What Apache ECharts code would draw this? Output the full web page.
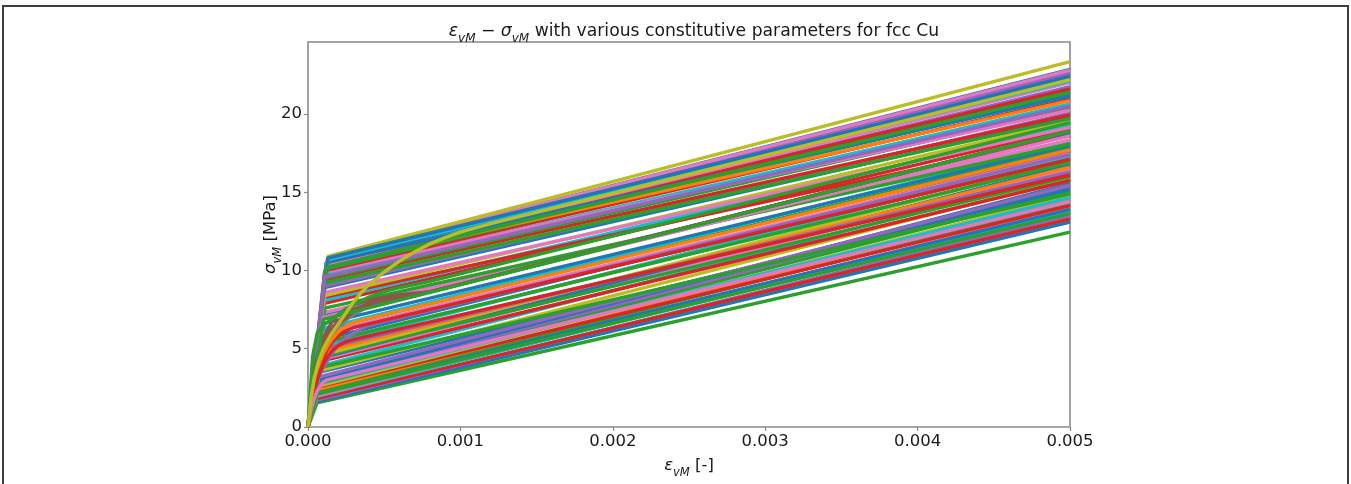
<!DOCTYPE html>
<html>
<head>
<meta charset="utf-8">
<script src="https://cdn.jsdelivr.net/npm/echarts@6/dist/echarts.min.js"></script>
<style>
  html, body { margin: 0; padding: 0; background: #ffffff; }
  #chart { width: 1351px; height: 484px; }
</style>
</head>
<body>
<div id="chart"></div>
<script>
// Von Mises strain-stress curves for fcc Cu under different constitutive parameter sets.

const xTickValues = [0, 0.001, 0.002, 0.003, 0.004, 0.005];
const xTickLabels = ['0.000', '0.001', '0.002', '0.003', '0.004', '0.005'];
const yTickValues = [0, 5, 10, 15, 20];
const yTickLabels = ['0', '5', '10', '15', '20'];

// Bilinear curves: elastic up to the knee, then linear hardening to the last strain.
const kneeStrain = [
  0.00006, 0.00005, 0.00005, 0.00005, 0.00005, 0.00006, 0.00006, 0.00006, 0.00006, 0.00006,
  0.00006, 0.00007, 0.00007, 0.00007, 0.00007, 0.00007, 0.00008, 0.00008, 0.00008, 0.00008,
  0.00008, 0.00008, 0.00009, 0.00009, 0.00009, 0.0001, 0.0001, 0.0001, 0.0001, 0.0001,
  0.0001, 0.0001, 0.0001, 0.00011, 0.00011, 0.00011, 0.00011, 0.00011, 0.00011, 0.00011,
  0.00011, 0.00011, 0.00011, 0.00011, 0.00012, 0.00012, 0.00012, 0.00012, 0.00012, 0.00012,
  0.00012, 0.00012, 0.00013, 0.00013, 0.00013, 0.00013, 0.00013, 0.00013, 0.00013, 0.00013,
  0.00009, 0.0001, 0.0001, 0.00011, 0.00011, 0.00011, 0.00007, 0.00008, 0.00006, 0.00012,
  0.00011, 0.0001
];
const kneeStress = [
  1.55, 1.6, 1.7, 1.8, 1.95, 2.0, 2.25, 2.3, 2.4, 2.55,
  2.6, 2.75, 2.8, 2.9, 3.0, 3.5, 3.6, 3.9, 4.2, 4.3,
  4.4, 4.5, 4.6, 4.8, 5.2, 5.6, 5.9, 6.2, 6.3, 6.6,
  6.88, 7.1, 7.3, 7.9, 8.1, 8.3, 8.4, 8.9, 9.0, 9.4,
  9.5, 9.8, 9.9, 10.0, 10.1, 10.2, 10.3, 10.3, 10.4, 10.4,
  10.5, 10.5, 10.6, 10.6, 10.7, 10.7, 10.8, 10.8, 10.9, 10.8,
  5.0, 5.4, 6.0, 7.6, 8.6, 9.2, 3.2, 3.8, 2.1, 10.2,
  9.6, 7.0
];
const endStrain = 0.005;
const endStress = [
  12.45, 13.1, 13.5, 13.3, 13.8, 14.0, 13.9, 14.3, 14.55, 14.15,
  14.8, 14.65, 15.05, 15.3, 15.55, 15.2, 15.85, 16.2, 15.75, 16.45,
  16.75, 16.0, 17.0, 16.6, 17.3, 17.6, 17.1, 17.85, 18.15, 18.0,
  18.9, 18.75, 18.35, 19.05, 19.3, 18.6, 19.55, 19.8, 20.05, 19.95,
  20.35, 20.65, 20.25, 20.95, 21.25, 21.5, 20.85, 21.75, 21.6, 22.0,
  22.2, 21.15, 22.4, 22.5, 22.65, 22.1, 22.85, 22.8, 23.35, 22.3,
  16.3, 16.9, 17.45, 18.1, 19.15, 19.7, 15.45, 14.9, 13.65, 21.4,
  20.5, 18.6
];

// Curves with gradual (saturating) hardening after yield.
const arcBrownA = [[0, 0], [0.00002, 2.4], [0.00004, 3.7], [0.00007, 4.9], [0.0001, 5.7], [0.00015, 6.6], [0.0002, 7.2], [0.00025, 7.55], [0.0003, 7.8], [0.0004, 8.1], [0.0005, 8.3], [0.0006, 8.45], [0.0007, 8.55], [0.0008, 8.63], [0.005, 18.9]];
const arcBrownB = [[0, 0], [0.00002, 2.2], [0.00004, 3.4], [0.00007, 4.5], [0.0001, 5.3], [0.00015, 6.2], [0.0002, 6.8], [0.00025, 7.2], [0.0003, 7.5], [0.0004, 7.9], [0.0005, 8.15], [0.0006, 8.35], [0.0007, 8.5], [0.0008, 8.63], [0.005, 18.9]];
const arcGrey   = [[0, 0], [0.00002, 2.0], [0.00004, 3.1], [0.00007, 4.1], [0.0001, 4.9], [0.00015, 5.8], [0.0002, 6.4], [0.00025, 6.85], [0.0003, 7.2], [0.0004, 7.7], [0.0005, 8.0], [0.0006, 8.25], [0.0007, 8.45], [0.0008, 8.63], [0.005, 18.9]];
const arcBrownC = [[0, 0], [0.00002, 2.1], [0.00004, 3.2], [0.00007, 4.3], [0.0001, 5.1], [0.00015, 6.0], [0.0002, 6.6], [0.0003, 7.35], [0.0004, 7.8], [0.0005, 8.1], [0.0006, 8.3], [0.0008, 8.63], [0.005, 18.9]];
const arcPurple = [[0, 0], [0.00002, 1.5], [0.00004, 2.4], [0.00007, 3.2], [0.0001, 3.8], [0.00015, 4.6], [0.0002, 5.3], [0.00025, 5.7], [0.0003, 6.0], [0.00035, 6.3], [0.0004, 6.5], [0.005, 17.4]];
const arcRedA   = [[0, 0], [0.00002, 1.5], [0.00003, 2.0], [0.00005, 2.7], [0.00007, 3.3], [0.0001, 4.0], [0.00013, 4.5], [0.00016, 4.9], [0.0002, 5.2], [0.00025, 5.45], [0.0003, 5.6], [0.005, 16.1]];
const arcRedB   = [[0, 0], [0.00002, 1.6], [0.00003, 2.2], [0.00005, 3.0], [0.00007, 3.6], [0.0001, 4.4], [0.00013, 5.0], [0.00016, 5.45], [0.0002, 5.85], [0.00025, 6.15], [0.0003, 6.36], [0.005, 17.1]];
const arcOrange = [[0, 0], [0.00002, 1.8], [0.00004, 3.0], [0.00006, 3.7], [0.00008, 4.2], [0.0001, 4.7], [0.00015, 5.5], [0.0002, 6.1], [0.00025, 6.45], [0.0003, 6.7], [0.005, 17.7]];
const arcPink   = [[0, 0], [0.00002, 1.1], [0.00004, 1.8], [0.00006, 2.3], [0.00008, 2.6], [0.0001, 2.85], [0.00012, 3.0], [0.005, 14.4]];
const arcGreen  = [[0, 0], [0.00003, 4.5], [0.00006, 6.0], [0.0001, 6.5], [0.0002, 7.2], [0.0003, 7.8], [0.0004, 8.3], [0.0005, 8.65], [0.0006, 8.9], [0.0008, 9.3], [0.005, 19.45]];
const arcOlive  = [[0, 0], [0.00002, 1.9], [0.00004, 3.1], [0.00007, 4.2], [0.0001, 5.0], [0.00015, 5.9], [0.0002, 6.6], [0.00025, 7.3], [0.0003, 8.0], [0.00035, 8.6], [0.0004, 9.1], [0.00045, 9.5], [0.0005, 9.9], [0.0006, 10.6], [0.0007, 11.2], [0.0008, 11.7], [0.0009, 12.1], [0.001, 12.45], [0.0012, 13.0], [0.005, 22.2]];

// ---- styling ----
const palette = ['#1f77b4', '#ff7f0e', '#2ca02c', '#d62728', '#9467bd',
                 '#8c564b', '#e377c2', '#7f7f7f', '#bcbd22', '#17becf'];
const lineTone = [
  2, 0, 4, 3, 9, 6, 0, 2, 1, 3,
  8, 9, 2, 4, 0, 0, 8, 9, 3, 6,
  0, 2, 8, 1, 9, 0, 3, 2, 9, 0,
  2, 0, 6, 3, 9, 3, 8, 0, 4, 3,
  2, 9, 6, 3, 2, 0, 1, 4, 3, 6,
  9, 0, 3, 0, 4, 9, 0, 6, 8, 0,
  4, 2, 6, 2, 6, 2, 4, 2, 2, 2,
  4, 6
];
// Draw order: bilinear curves, brown arcs, the green curve their tails share, then the other arcs.
const liftedLine = 30;
const brownArcs = [arcBrownA, arcBrownB, arcGrey, arcBrownC];
const brownTone = [5, 5, 7, 5];
const overArcs = [arcPurple, arcRedA, arcRedB, arcOrange, arcPink, arcGreen, arcOlive];
const overTone = [4, 3, 3, 1, 6, 2, 8];

const LINE_W = 3.4;
const series = [];
function addLine(data, tone) {
  series.push({
    type: 'line',
    data: data,
    showSymbol: false,
    silent: true,
    lineStyle: { width: LINE_W, color: palette[tone] },
    itemStyle: { color: palette[tone] }
  });
}
const bilinear = i => [[0, 0], [kneeStrain[i], kneeStress[i]], [endStrain, endStress[i]]];
kneeStress.forEach((sk, i) => { if (i !== liftedLine) addLine(bilinear(i), lineTone[i]); });
brownArcs.forEach((pts, i) => addLine(pts, brownTone[i]));
addLine(bilinear(liftedLine), lineTone[liftedLine]);
overArcs.forEach((pts, i) => addLine(pts, overTone[i]));

const FONT = 'DejaVu Sans';
const TXT = '#1a1a1a';
const AXIS_GREY = '#8a8a8a';

function mathRich(size, sub) {
  return {
    n: { fontFamily: FONT, fontWeight: 'normal', fontSize: size, color: TXT, lineHeight: 22, verticalAlign: 'middle' },
    i: { fontFamily: FONT, fontWeight: 'normal', fontStyle: 'italic', fontSize: size, color: TXT, lineHeight: 22, verticalAlign: 'middle' },
    s: { fontFamily: FONT, fontWeight: 'normal', fontStyle: 'italic', fontSize: sub, color: TXT, lineHeight: 22, verticalAlign: 'bottom', padding: [0, 0, -2, 0] }
  };
}

const chart = echarts.init(document.getElementById('chart'), null, { renderer: 'canvas' });
chart.setOption({
  animation: false,
  backgroundColor: '#ffffff',
  textStyle: { fontFamily: FONT },
  title: {
    text: '{i|ε}{s|vM}{n| − }{i|σ}{s|vM}{n| with various constitutive parameters for fcc Cu}',
    left: 689,
    textAlign: 'center',
    top: 16,
    textStyle: { fontWeight: 'normal', rich: mathRich(17.2, 12) }
  },
  grid: {
    left: 308, right: 281, top: 42, bottom: 48,
    show: true, borderColor: AXIS_GREY, borderWidth: 1.6, backgroundColor: 'transparent'
  },
  xAxis: {
    type: 'value',
    min: 0, max: 0.005, interval: 0.001,
    axisLine: { show: false },
    axisTick: { show: true, inside: false, length: 4, lineStyle: { color: AXIS_GREY, width: 1.2 } },
    splitLine: { show: false },
    axisLabel: {
      fontFamily: FONT, fontSize: 16.5, color: TXT, margin: 6,
      showMinLabel: true, showMaxLabel: true,
      formatter: v => {
        const k = xTickValues.findIndex(t => Math.abs(t - v) < 1e-9);
        return k >= 0 ? xTickLabels[k] : '';
      }
    },
    name: '{i|ε}{s|vM}{n| [-]}',
    nameLocation: 'middle',
    nameGap: 28,
    nameTextStyle: { rich: mathRich(16.5, 11.5) }
  },
  yAxis: {
    type: 'value',
    min: 0, max: 24.6, interval: 5,
    axisLine: { show: false },
    axisTick: { show: true, inside: false, length: 4, lineStyle: { color: AXIS_GREY, width: 1.2 } },
    splitLine: { show: false },
    axisLabel: {
      fontFamily: FONT, fontSize: 16.5, color: TXT, margin: 6,
      showMaxLabel: false,
      formatter: v => {
        const k = yTickValues.findIndex(t => Math.abs(t - v) < 1e-9);
        return k >= 0 ? yTickLabels[k] : '';
      }
    },
    name: '{i|σ}{s|vM}{n| [MPa]}',
    nameLocation: 'middle',
    nameGap: 26,
    nameMoveOverlap: false,
    nameRotate: 90,
    nameTextStyle: { rich: mathRich(16.5, 11.5) }
  },
  graphic: [{
    type: 'rect',
    silent: true,
    shape: { x: 3, y: 6, width: 1345, height: 490 },
    style: { fill: 'none', stroke: '#3c3c3c', lineWidth: 2 }
  }],
  series: series
});
</script>
</body>
</html>
